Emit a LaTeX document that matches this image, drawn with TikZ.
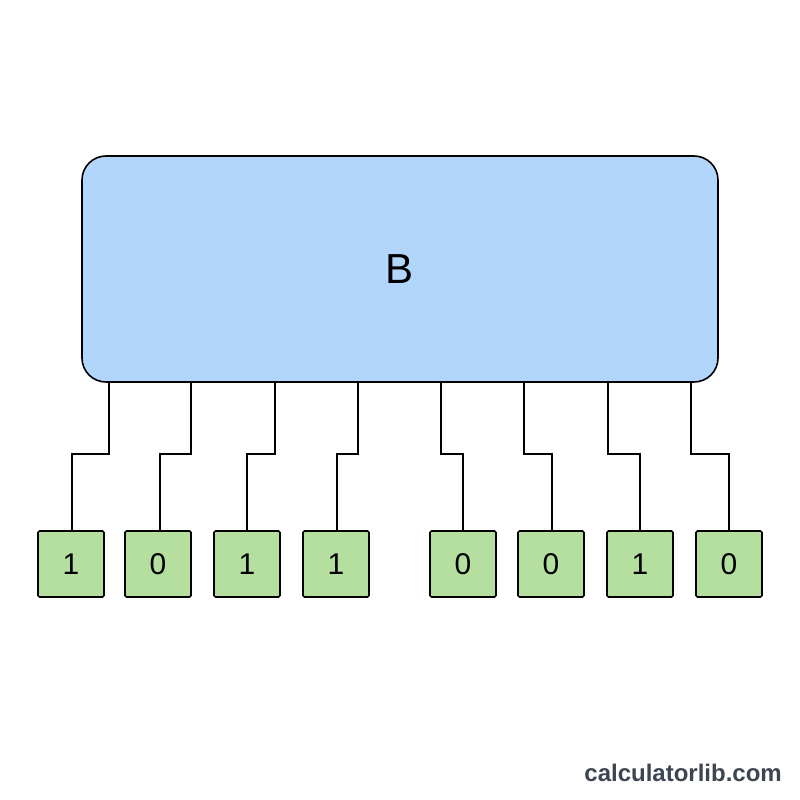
\documentclass[tikz,border=0pt]{standalone}
\usepackage{fontspec}
\setmainfont{Liberation Sans}
\begin{document}
\begin{tikzpicture}[x=1pt,y=-1pt,
  wire/.style={line width=1.6pt,line join=miter},
  bit/.style={draw,line width=1.6pt,fill=bitgreen,minimum width=66pt,minimum height=66pt,inner sep=0pt,font=\fontsize{30}{30}\selectfont,rounded corners=1.5pt},
]
\definecolor{bitgreen}{HTML}{B5DF9F}
\definecolor{bigblue}{HTML}{B2D6FB}
\definecolor{wm}{HTML}{3D4553}
\useasboundingbox[fill=white] (0,0) rectangle (800,800);
\node[draw,line width=1.6pt,fill=bigblue,rounded corners=24pt,minimum width=636pt,minimum height=226pt,inner sep=0pt,font=\fontsize{42}{42}\selectfont] (B) at (400,269) {B};
\foreach \i/\cx/\v/\tx/\lx in {1/71/1/109/72,2/158/0/191/160,3/247/1/275/247,4/336/1/358/337,5/463/0/441/463,6/551/0/524/552,7/640/1/608/640,8/729/0/691/729}{
  \node[bit] (b\i) at (\cx,564) {\v};
  \coordinate (t\i) at (\tx,382);
  \draw[wire] (B.south -| t\i) -- (\tx,454) -- (\lx,454) -- (b\i.north -| {(\lx,0)});
}
\node[anchor=base east,font=\bfseries\fontsize{24}{24}\selectfont,text=wm,inner sep=0pt] (wmk) at (782,781) {calculatorlib.com};
\end{tikzpicture}
\end{document}
